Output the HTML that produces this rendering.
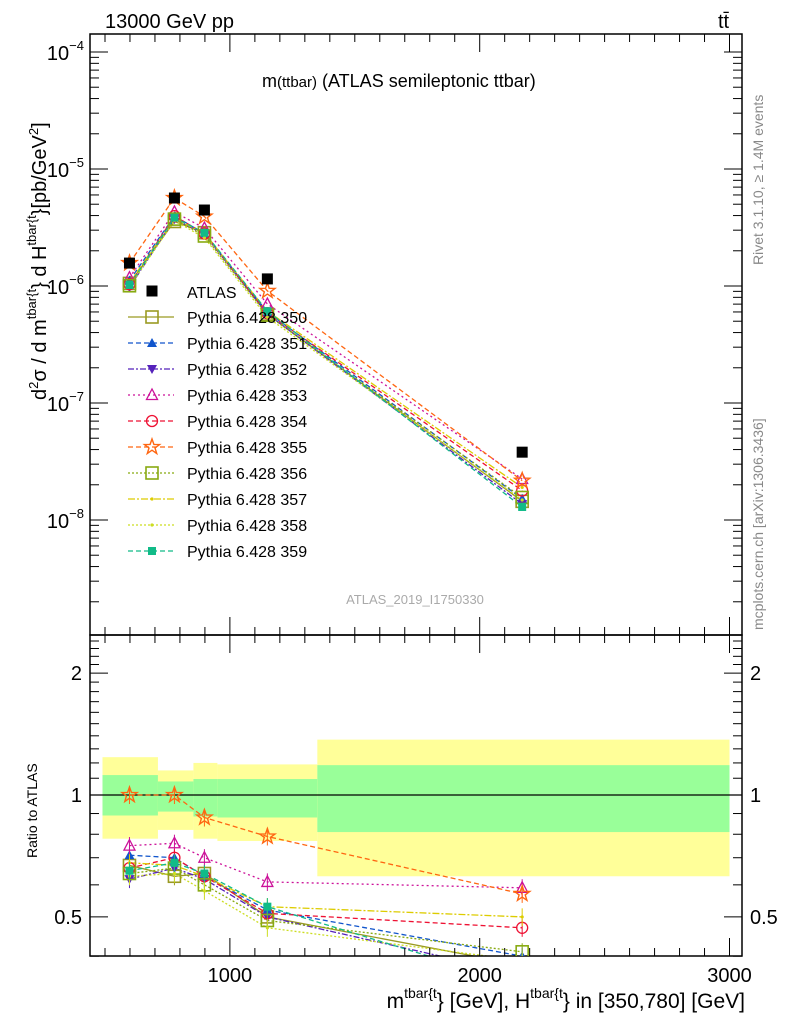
<!DOCTYPE html>
<html><head><meta charset="utf-8"><style>
html,body{margin:0;padding:0;background:#fff;}
body{width:786px;height:1024px;overflow:hidden;font-family:"Liberation Sans",sans-serif;}
svg text{font-family:"Liberation Sans",sans-serif;}
</style></head><body>
<svg id="chart" width="786" height="1024" xmlns="http://www.w3.org/2000/svg">
<defs>
<clipPath id="ct"><rect x="90" y="34" width="652" height="601"/></clipPath>
<clipPath id="cr"><rect x="90" y="635" width="652" height="321"/></clipPath>
</defs>
<g id="bands"></g>
<g id="linesTop" clip-path="url(#ct)"></g>
<g id="linesRatio" clip-path="url(#cr)"></g>
<g id="axes"></g>
<g id="marks"></g>
<g id="marksR" clip-path="url(#cr)"></g>
<g id="legend"></g>
<text x="105" y="28" font-size="20">13000 GeV pp</text>
<text x="718" y="28" font-size="20">tt̄</text>
<text x="262" y="87" font-size="18">m<tspan font-size="15">(ttbar)</tspan> (ATLAS semileptonic ttbar)</text>
<text x="415" y="604" font-size="13" fill="#aaa" text-anchor="middle">ATLAS_2019_I1750330</text>
<text transform="translate(763,265) rotate(-90)" font-size="14" fill="#888">Rivet 3.1.10, ≥ 1.4M events</text>
<text transform="translate(763,630) rotate(-90)" font-size="14" fill="#888">mcplots.cern.ch [arXiv:1306.3436]</text>
<text transform="translate(46,400) rotate(-90)" font-size="20">d<tspan font-size="13" dy="-8">2</tspan><tspan dy="8">σ / d m</tspan><tspan font-size="13" dy="-10">tbar{t</tspan><tspan dy="10">} d H</tspan><tspan font-size="13" dy="-10">tbar{t</tspan><tspan dy="10">}[pb/GeV</tspan><tspan font-size="13" dy="-8">2</tspan><tspan dy="8">]</tspan></text>
<text transform="translate(37,858) rotate(-90)" font-size="14">Ratio to ATLAS</text>
<text x="745" y="1008" font-size="21" text-anchor="end">m<tspan font-size="14" dy="-10">tbar{t</tspan><tspan dy="10">} [GeV], H</tspan><tspan font-size="14" dy="-10">tbar{t</tspan><tspan dy="10">} in [350,780] [GeV]</tspan></text>
</svg>
<script>
const xCenters=[598,778,898,1150,2170];
const binEdges=[490,712,854,950,1350,3000];
const greenLo=[0.89,0.91,0.885,0.88,0.81];
const greenHi=[1.12,1.08,1.095,1.095,1.185];
const yellowLo=[0.78,0.82,0.78,0.77,0.63];
const yellowHi=[1.24,1.15,1.20,1.19,1.37];
const atlasVals=[1.57e-6,5.65e-6,4.46e-6,1.15e-6,3.8e-8];
const seriesNames=["Pythia 6.428 350","Pythia 6.428 351","Pythia 6.428 352","Pythia 6.428 353","Pythia 6.428 354","Pythia 6.428 355","Pythia 6.428 356","Pythia 6.428 357","Pythia 6.428 358","Pythia 6.428 359"];
const r350=[0.67,0.63,0.64,0.50,0.38];
const r351=[0.71,0.70,0.63,0.52,0.40];
const r352=[0.62,0.66,0.62,0.50,0.36];
const r353=[0.75,0.76,0.70,0.61,0.59];
const r354=[0.66,0.70,0.63,0.51,0.47];
const r355=[1.0,1.0,0.88,0.79,0.57];
const r356=[0.64,0.66,0.60,0.49,0.41];
const r357=[0.68,0.67,0.63,0.53,0.50];
const r358=[0.63,0.64,0.58,0.47,0.39];
const r359=[0.65,0.68,0.64,0.53,0.34];
const ratios=[r350,r351,r352,r353,r354,r355,r356,r357,r358,r359];
const colors=["#9a9a22","#1155cc","#5522bb","#cc1199","#ee1133","#ff6611","#88aa11","#ddcc00","#ccdd22","#11bb88"];
const dashes=["","5,3","6,2,2,2","2,3","5,3","5,3","2,2","7,2,2,2","2,2","5,3"];
const markers=["osq","tri","itri","otri","ocirc","star","osq","dot","dot","sq"];

const NS="http://www.w3.org/2000/svg";
const L=90,R=742,T=34,MID=635,B=956;
const X=v=>L+(v-440)/(3050-440)*(R-L);
const Ytop=v=>286-(Math.log10(v)+6)*117;
const Yr=v=>795-Math.log10(v)*405;
function mk(tag,attrs,parent){const e=document.createElementNS(NS,tag);for(const k in attrs)e.setAttribute(k,attrs[k]);parent.appendChild(e);return e;}
const gB=document.getElementById('bands'),gLt=document.getElementById('linesTop'),gLr=document.getElementById('linesRatio'),gA=document.getElementById('axes'),gM=document.getElementById('marks'),gMr=document.getElementById('marksR'),gG=document.getElementById('legend');
for(let i=0;i<5;i++){
  const x1=X(binEdges[i]),x2=X(binEdges[i+1]);
  const y=mk('rect',{x:x1,y:Yr(yellowHi[i]),width:x2-x1,height:Yr(yellowLo[i])-Yr(yellowHi[i]),fill:'#ffff99'},gB);
  
  
  const g=mk('rect',{x:x1,y:Yr(greenHi[i]),width:x2-x1,height:Yr(greenLo[i])-Yr(greenHi[i]),fill:'#99ff99'},gB);
  
  
}
const one=mk('line',{x1:L,x2:R,y1:Yr(1),y2:Yr(1),stroke:'#000','stroke-width':1.2},gB);


function marker(type,x,y,c,parent,s){
  s=s||1;let e;
  if(type==='osq')e=mk('rect',{x:x-6*s,y:y-6*s,width:12*s,height:12*s,fill:'none',stroke:c,'stroke-width':1.6},parent);
  else if(type==='sq')e=mk('rect',{x:x-4*s,y:y-4*s,width:8*s,height:8*s,fill:c},parent);
  else if(type==='tri')e=mk('polygon',{points:`${x},${y-5*s} ${x-5*s},${y+4*s} ${x+5*s},${y+4*s}`,fill:c},parent);
  else if(type==='itri')e=mk('polygon',{points:`${x},${y+5*s} ${x-5*s},${y-4*s} ${x+5*s},${y-4*s}`,fill:c},parent);
  else if(type==='otri')e=mk('polygon',{points:`${x},${y-6*s} ${x-5.5*s},${y+4.5*s} ${x+5.5*s},${y+4.5*s}`,fill:'none',stroke:c,'stroke-width':1.3},parent);
  else if(type==='ocirc')e=mk('circle',{cx:x,cy:y,r:5.5*s,fill:'none',stroke:c,'stroke-width':1.3},parent);
  else if(type==='star'){let p=[];for(let k=0;k<10;k++){const a=-Math.PI/2+k*Math.PI/5,r=(k%2?3.2:8)*s;p.push((x+r*Math.cos(a)).toFixed(1)+','+(y+r*Math.sin(a)).toFixed(1));}e=mk('polygon',{points:p.join(' '),fill:'none',stroke:c,'stroke-width':1.4},parent);}
  else if(type==='dot')e=mk('circle',{cx:x,cy:y,r:1.6*s,fill:c},parent);
  else if(type==='bsq')e=mk('rect',{x:x-5.5*s,y:y-5.5*s,width:11*s,height:11*s,fill:c},parent);
  return e;
}
ratios.forEach((r,si)=>{
  const c=colors[si];
  const topPts=r.map((v,i)=>X(xCenters[i]).toFixed(1)+','+Ytop(v*atlasVals[i]).toFixed(1)).join(' ');
  const pl=mk('polyline',{points:topPts,fill:'none',stroke:c,'stroke-width':1.3,'stroke-dasharray':dashes[si]},gLt);
  
  
  const rPts=r.map((v,i)=>X(xCenters[i]).toFixed(1)+','+Yr(v).toFixed(1)).join(' ');
  const pr=mk('polyline',{points:rPts,fill:'none',stroke:c,'stroke-width':1.3,'stroke-dasharray':dashes[si]},gLr);
  
  
  r.forEach((v,i)=>{
    const x=X(xCenters[i]);
    const yt=Ytop(v*atlasVals[i]);
    const m=marker(markers[si],x,yt,c,gM);
    
    
    const yr=Yr(v);
    mk('line',{x1:x,x2:x,y1:Yr(v*1.05),y2:Yr(v*0.95),stroke:c,'stroke-width':1},gMr);
    const m2=marker(markers[si],x,yr,c,gMr);
    
    
  });
});
atlasVals.forEach((v,i)=>{
  const m=marker('bsq',X(xCenters[i]),Ytop(v),'#000',gM);
  
  
});
[[T,MID],[MID,B]].forEach(([a,b])=>{mk('rect',{x:L,y:a,width:R-L,height:b-a,fill:'none',stroke:'#000','stroke-width':1.5},gA);});
for(let v=500;v<=3000;v+=100){
  const x=X(v),big=v%1000===0,len=big?18:8;
  [T,MID].forEach(y0=>mk('line',{x1:x,x2:x,y1:y0,y2:y0+len,stroke:'#000'},gA));
  [MID,B].forEach(y0=>mk('line',{x1:x,x2:x,y1:y0,y2:y0-len,stroke:'#000'},gA));
}
const xTickLabels=[1000,2000,3000];
xTickLabels.forEach(v=>{const t=mk('text',{x:X(v),y:982,'font-size':20,'text-anchor':'middle'},gA);t.textContent=v;
  
  });
for(let e=-9;e<=-4;e++){for(let k=1;k<10;k++){const v=k*Math.pow(10,e),y=Ytop(v);if(y<T||y>MID)continue;const len=k===1?18:9;
  mk('line',{x1:L,x2:L+len,y1:y,y2:y,stroke:'#000'},gA);mk('line',{x1:R,x2:R-len,y1:y,y2:y,stroke:'#000'},gA);}}
const topTickExps=[-4,-5,-6,-7,-8];
topTickExps.forEach(e=>{const t=mk('text',{x:84,y:Ytop(Math.pow(10,e))+8,'font-size':20,'text-anchor':'end'},gA);
  t.innerHTML='10<tspan font-size="13" dy="-10">−'+(-e)+'</tspan>';
  
  });
for(let v=0.4;v<=2.45;v+=0.1){const y=Yr(v);const big=Math.abs(v-0.5)<1e-6||Math.abs(v-1)<1e-6||Math.abs(v-2)<1e-6;const len=big?18:9;
  mk('line',{x1:L,x2:L+len,y1:y,y2:y,stroke:'#000'},gA);mk('line',{x1:R,x2:R-len,y1:y,y2:y,stroke:'#000'},gA);}
const ratioTickLabels=["0.5","1","2"];
ratioTickLabels.forEach(s=>{const y=Yr(parseFloat(s))+7;
  const a=mk('text',{x:82,y:y,'font-size':20,'text-anchor':'end'},gA);a.textContent=s;
  
  
  const b=mk('text',{x:750,y:y,'font-size':20},gA);b.textContent=s;
  
  });
const leg0=291,legDy=26;
const lg=mk('g',{},gG);


marker('bsq',152,leg0,'#000',lg);
const lt=mk('text',{x:187,y:leg0+7,'font-size':16},lg);lt.textContent='ATLAS';
seriesNames.forEach((n,si)=>{
  const y=leg0+legDy*(si+1),c=colors[si];
  const g=mk('g',{},gG);
  
  
  mk('line',{x1:128,x2:174,y1:y,y2:y,stroke:c,'stroke-width':1.3,'stroke-dasharray':dashes[si]},g);
  marker(markers[si],152,y,c,g);
  const t=mk('text',{x:187,y:y+6,'font-size':16},g);t.textContent=n;
});
</script>
</body></html>
